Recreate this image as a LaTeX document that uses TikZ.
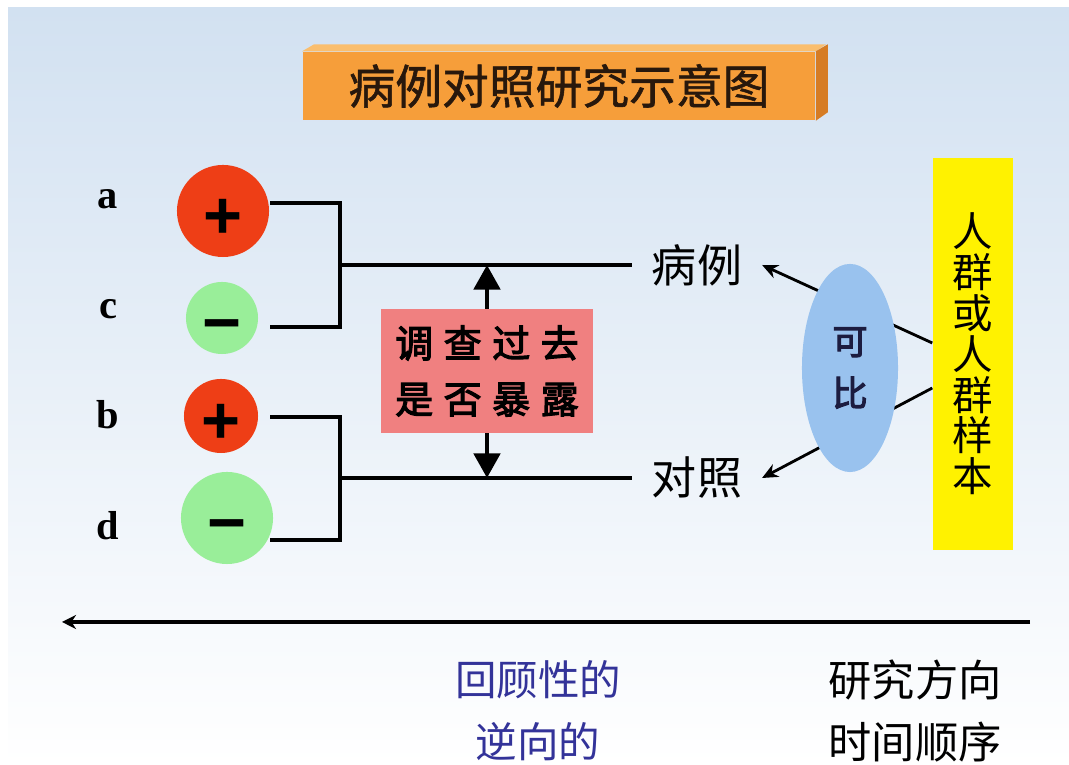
\documentclass[tikz,border=0pt]{standalone}
\usepackage{fontspec}
\setmainfont{Liberation Serif}
\newfontfamily\cjk{Noto Sans CJK SC}
\newfontfamily\cjkbold[FakeBold=1.2]{Noto Sans CJK SC}
\newfontfamily\cjkheavy[FakeBold=3]{Noto Sans CJK SC}
\newfontfamily\signfont{Liberation Sans}
\usetikzlibrary{arrows.meta,shapes.geometric,positioning}

\definecolor{skyTop}{RGB}{210,225,241}
\definecolor{skyMid}{RGB}{232,240,248}
\definecolor{titleFace}{RGB}{246,158,58}
\definecolor{titleTop}{RGB}{250,190,110}
\definecolor{titleSide}{RGB}{214,124,36}
\definecolor{titleInk}{RGB}{40,24,12}
\definecolor{exposRed}{RGB}{238,62,22}
\definecolor{unexposGreen}{RGB}{153,238,153}
\definecolor{probeRed}{RGB}{240,128,128}
\definecolor{ovalBlue}{RGB}{153,194,238}
\definecolor{ovalInk}{RGB}{28,28,64}
\definecolor{retroBlue}{RGB}{51,51,153}

\newcommand{\probegap}{\hspace{3pt}}

\tikzset{
  titlebox/.style={fill=titleFace, minimum width=5.12cm, minimum height=0.68cm,
    text=titleInk, font=\cjkbold\fontsize{13.3}{15}\selectfont},
  exposedDot/.style={circle, fill=exposRed, inner sep=0pt, text height=15.5pt, text depth=0pt,
    font=\signfont\bfseries\fontsize{19}{19}\selectfont},
  unexposedDot/.style={circle, fill=unexposGreen, inner sep=0pt, text height=15.5pt, text depth=0pt,
    font=\signfont\bfseries\fontsize{19}{19}\selectfont},
  cellLabel/.style={font=\bfseries\fontsize{11.5}{13}\selectfont},
  bracketLine/.style={line width=0.9pt},
  groupLabel/.style={inner xsep=5.5pt, font=\cjk\fontsize{12.8}{14}\selectfont},
  probeBox/.style={fill=probeRed, minimum width=2.11cm, minimum height=1.23cm, align=center,
    font=\cjkheavy\fontsize{10.8}{15.9}\selectfont},
  probeArrow/.style={line width=1.4pt, -{Triangle[width=7.4pt,length=7pt]}},
  compareLine/.style={line width=0.8pt, -{Stealth[length=4.5pt,width=4pt]}},
  compareOval/.style={ellipse, fill=ovalBlue, minimum width=0.96cm, minimum height=2.08cm,
    inner sep=0pt, align=center, text=ovalInk, font=\cjkheavy\fontsize{10}{14.7}\selectfont},
  sampleBox/.style={fill=yellow, minimum width=0.8cm, minimum height=3.92cm, align=center,
    font=\cjk\fontsize{11.5}{11.6}\selectfont},
  timeArrow/.style={line width=1.3pt, -{Stealth[length=4pt,width=4pt]}},
  retroText/.style={text=retroBlue, font=\cjk\fontsize{11.8}{13}\selectfont},
  timeText/.style={font=\cjk\fontsize{12.3}{13}\selectfont}
}

\begin{document}
\begin{tikzpicture}[x=0.01cm, y=-0.01cm]
    % background
    \fill[white] (0,0) rectangle (1069,765);
    \shade[top color=skyTop, middle color=skyMid, bottom color=white] (8,8) rectangle (1069,765);
    \useasboundingbox (0,0) rectangle (1069,765);

    % title plate
    \node[titlebox] (title) at (559,86) {病例对照研究示意图};
    \fill[titleTop] (title.north west) -- ++(12,-7) -- ++(512,0) -- (title.north east) -- cycle;
    \fill[titleSide] (title.north east) -- ++(12,-7) -- ++(0,68) -- (title.south east) -- cycle;

    % exposure groups
    \node[exposedDot, minimum size=0.92cm] (dotA) at (223,211) {+};
    \node[unexposedDot, minimum size=0.72cm] (dotC) at (222,318) {−};
    \node[exposedDot, minimum size=0.74cm] (dotB) at (221,416) {+};
    \node[unexposedDot, minimum size=0.92cm] (dotD) at (227,518) {−};

    \node[cellLabel] (labelA) at (108,199) {a};
    \node[cellLabel] (labelC) at (108,309) {c};
    \node[cellLabel] (labelB) at (108,415) {b};
    \node[cellLabel] (labelD) at (108,526) {d};

    \node[groupLabel] (caseLabel) at (697,265) {病例};
    \node[groupLabel] (ctrlLabel) at (697,478) {对照};

    \coordinate (aEnd) at (270,203);
    \coordinate (cEnd) at (270,327);
    \coordinate (bEnd) at (270,417);
    \coordinate (dEnd) at (270,540);
    \coordinate (caseJoin) at (340,265);
    \coordinate (ctrlJoin) at (340,478);

    \draw[bracketLine] (aEnd) -| (caseJoin) |- (cEnd);
    \draw[bracketLine] (bEnd) -| (ctrlJoin) |- (dEnd);
    \draw[bracketLine] (caseJoin) -- (caseLabel.west);
    \draw[bracketLine] (ctrlJoin) -- (ctrlLabel.west);

    % looking back at exposure
    \node[probeBox] (probe) at (487,371) {调\probegap 查\probegap 过\probegap 去\\是\probegap 否\probegap 暴\probegap 露};
    \draw[probeArrow] (probe.north) -- (probe.north |- caseJoin);
    \draw[probeArrow] (probe.south) -- (probe.south |- ctrlJoin);

    % comparable groups from the population
    \node[sampleBox] (sample) at (973,354) {人\\群\\或\\人\\群\\样\\本};
    \draw[compareLine] ([yshift=0.11cm]sample.west) -- (caseLabel.east);
    \draw[compareLine] ([yshift=-0.34cm]sample.west) -- (ctrlLabel.east);
    \node[compareOval] (compare) at (850,368) {可\\比};

    % time direction
    \coordinate (timeRight) at (1030,622);
    \coordinate (timeLeft) at (62,622);
    \draw[timeArrow] (timeRight) -- (timeLeft);

    \node[retroText] (retroA) at (538,680) {回顾性的};
    \node[retroText] (retroB) at (538,742) {逆向的};
    \node[timeText] (dirA) at (915,680) {研究方向};
    \node[timeText] (dirB) at (915,742) {时间顺序};
\end{tikzpicture}
\end{document}
